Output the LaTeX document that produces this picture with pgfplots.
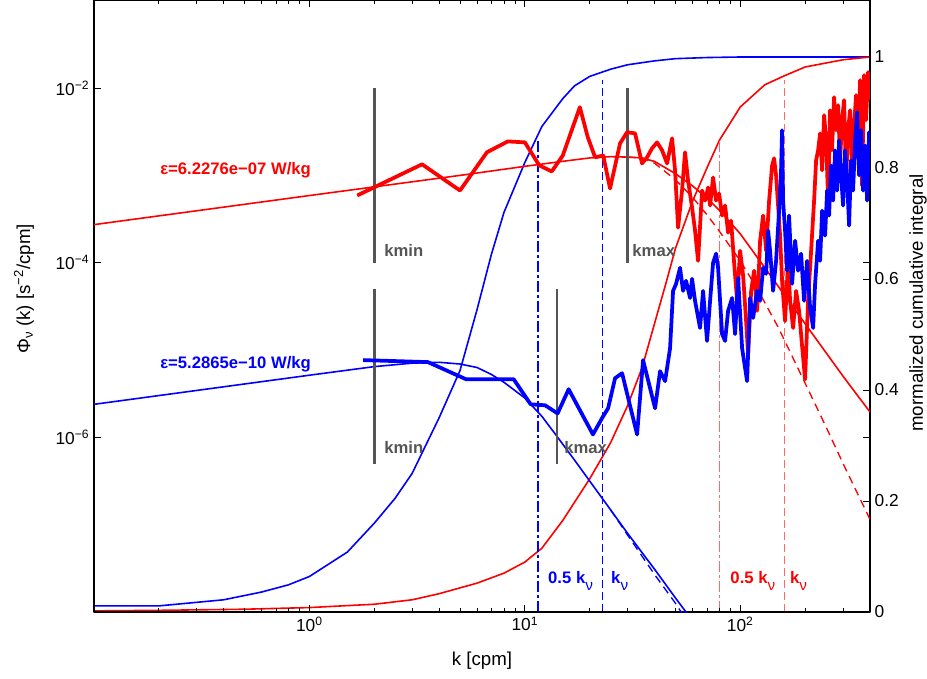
\documentclass[border=0pt]{standalone}
\usepackage{fontspec}
\setmainfont{Liberation Sans}
\usepackage{pgfplots}
\pgfplotsset{compat=1.18}
\definecolor{kgray}{RGB}{85,85,85}
\definecolor{lred}{RGB}{255,105,105}
\newcommand\fA{\fontsize{12.5}{15}\selectfont}
\newcommand\fT{\fontsize{13}{15.5}\selectfont}
\newcommand\fB{\fontsize{14}{17}\selectfont}
\newcommand\nusub{\raisebox{-0.45em}{\mdseries\fontsize{11.5}{13}\selectfont ν}}
\begin{document}
\begin{tikzpicture}[font=\fA]
% ---------------- right axis: normalized cumulative integral ----------------
\begin{axis}[
  at={(0,0)}, anchor=south west, scale only axis, width=582pt, height=459pt,
  xmode=log, xmin=0.1, xmax=400, ymin=0, ymax=1.1027,
  axis x line=none, axis y line*=right,
  ytick={0,0.2,0.4,0.6,0.8,1}, yticklabels={0,0.2,0.4,0.6,0.8,1},
  tick align=inside, major tick length=5.25pt,
  axis line style={line width=0.8pt},
  every tick/.style={black, line width=0.6pt},
  yticklabel style={font=\fT},
  clip mode=individual,
]
\addplot[blue, line width=1.2pt] coordinates {
(0.1,0.011) (0.2,0.011) (0.4,0.022) (0.6,0.036) (0.8,0.049) (1.0,0.064) (1.5,0.108)
(2.0,0.16) (2.5,0.205) (3.0,0.25) (4.0,0.35) (5.0,0.435) (6.0,0.545) (7.0,0.645)
(8.0,0.72) (10,0.81) (12,0.875) (15,0.925) (17,0.948) (20,0.965) (25,0.978)
(30,0.986) (40,0.993) (50,0.997) (70,0.999) (100,1.0) (400,1.0)};
\addplot[red, line width=1.2pt] coordinates {
(0.1,0.002) (0.2,0.003) (0.5,0.005) (1,0.008) (2,0.014) (3,0.022) (4,0.033)
(6,0.052) (8,0.07) (10,0.09) (12,0.115) (15,0.165) (20,0.24) (25,0.305)
(30,0.372) (35,0.44) (40,0.52) (45,0.59) (50,0.655) (60,0.74) (70,0.80)
(80,0.85) (100,0.91) (130,0.95) (160,0.966) (200,0.982) (300,0.995) (400,1.0)};
% k_nu markers
\addplot[blue, line width=0.9pt, dash pattern=on 8pt off 2.5pt on 2pt off 2.5pt] coordinates {(11.5,0) (11.5,0.85)};
\addplot[blue, line width=0.8pt, dash pattern=on 6pt off 3pt] coordinates {(22.9,0) (22.9,0.958)};
\addplot[lred, line width=0.9pt, dash pattern=on 8pt off 2.5pt on 2pt off 2.5pt] coordinates {(80,0) (80,0.85)};
\addplot[lred, line width=0.9pt, dash pattern=on 6pt off 3pt] coordinates {(160,0) (160,0.958)};
\node[anchor=base west, inner sep=0, text=blue, font=\fA\bfseries] at (axis cs:12.8,0.052) {0.5 k\nusub};
\node[anchor=base west, inner sep=0, text=blue, font=\fA\bfseries] at (axis cs:25.1,0.052) {k\nusub};
\node[anchor=base west, inner sep=0, text=red, font=\fA\bfseries] at (axis cs:89.8,0.052) {0.5 k\nusub};
\node[anchor=base west, inner sep=0, text=red, font=\fA\bfseries] at (axis cs:170,0.052) {k\nusub};
\node[font=\fB, xshift=36pt, rotate=90] at (rel axis cs:1,0.505) {mormalized cumulative integral};
\end{axis}
% ---------------- left axis: spectra ----------------
\begin{axis}[
  at={(0,0)}, anchor=south west, scale only axis, width=582pt, height=459pt,
  xmode=log, ymode=log, xmin=0.1, xmax=400, ymin=1e-8, ymax=1.02e-1,
  xtick={1,10,100}, xticklabels={10\textsuperscript{0},10\textsuperscript{1},10\textsuperscript{2}},
  minor xtick={0.2,0.3,0.4,0.5,0.6,0.7,0.8,0.9,2,3,4,5,6,7,8,9,20,30,40,50,60,70,80,90,200,300},
  ytick={1e-6,1e-4,1e-2}, yticklabels={10\textsuperscript{−6},10\textsuperscript{−4},10\textsuperscript{−2}},
  yminorticks=false,
  tick align=inside, tick pos=both,
  major tick length=5.25pt, minor tick length=3pt,
  axis line style={line width=0.8pt},
  every tick/.style={black, line width=0.6pt},
  tick label style={font=\fT},
  line join=round,
  clip mode=individual,
]
% model spectra
\addplot[red, line width=1.2pt] coordinates {
(0.1,2.73e-4) (1,5.88e-4) (5,1.0e-3) (10,1.27e-3) (15,1.45e-3) (20,1.585e-3) (25,1.64e-3)
(30,1.62e-3) (35,1.585e-3) (40,1.445e-3) (50,1.047e-3) (60,7.59e-4) (70,5.50e-4)
(80,3.98e-4) (90,2.88e-4) (100,2.14e-4) (120,1.15e-4) (150,5.37e-5) (200,2.0e-5)
(250,9.33e-6) (300,5.01e-6) (400,1.95e-6)};
\addplot[red, line width=1pt, dash pattern=on 6pt off 4pt] coordinates {
(30,1.62e-3) (35,1.585e-3) (40,1.38e-3) (50,8.91e-4) (60,5.62e-4) (70,3.55e-4)
(80,2.29e-4) (100,1.05e-4) (120,5.01e-5) (150,1.82e-5) (200,4.17e-6) (250,1.32e-6)
(300,5.01e-7) (400,1.15e-7)};
\addplot[blue, line width=1.2pt] coordinates {
(0.1,2.39e-6) (1,5.15e-6) (2,6.46e-6) (3,7.08e-6) (4,7.24e-6) (5,6.92e-6) (6,6.31e-6)
(7,5.25e-6) (8,4.27e-6) (10,2.82e-6) (12,1.74e-6) (14,1.05e-6) (17,5.50e-7)
(20,3.16e-7) (25,1.48e-7) (30,7.94e-8) (40,3.09e-8) (50,1.45e-8) (60,7.94e-9)};
\addplot[blue, line width=1pt, dash pattern=on 6pt off 4pt] coordinates {
(25,1.48e-7) (30,7.59e-8) (40,2.69e-8) (50,1.26e-8) (60,6.31e-9)};
% kmin / kmax bars
\addplot[kgray, line width=2.2pt] coordinates {(2,1e-4) (2,1e-2)};
\addplot[kgray, line width=2.2pt] coordinates {(30,1e-4) (30,1e-2)};
\addplot[kgray, line width=2.2pt] coordinates {(2,5e-7) (2,5e-5)};
\addplot[kgray, line width=2.2pt] coordinates {(14.1,5e-7) (14.1,5e-5)};
% measured spectra
\addplot[red, line width=2.8pt] coordinates {
(1.667,5.89e-4) (3.333,1.34e-3) (5.0,6.71e-4) (6.667,1.84e-3) (8.333,2.45e-3)
(10.0,2.39e-3) (11.67,1.30e-3) (13.33,1.11e-3) (15.0,1.69e-3) (18.0,6.04e-3)
(19.6,2.73e-3) (21.2,1.61e-3) (23.1,1.69e-3) (24.86,7.08e-4) (27.67,2.33e-3)
(29.82,3.12e-3) (32.48,3.03e-3) (35.0,1.37e-3) (36.92,1.61e-3) (38.94,2.04e-3)
(41.08,2.39e-3) (43.34,1.94e-3) (45.72,1.37e-3) (48.23,2.66e-3) (49.80,1.14e-3)
(51.43,2.52e-4) (53.66,6.71e-4) (55.41,1.84e-3) (57.22,8.75e-4) (59.72,4.29e-4)
(61.67,2.33e-4) (63.68,1.05e-4) (66.49,6.71e-4) (68.65,5.15e-4) (70.89,7.28e-4)
(72.42,4.52e-4) (74.78,9.48e-4) (77.22,5.15e-4) (79.74,6.21e-4) (82.33,3.47e-4)
(85.01,4.52e-4) (87.79,2.21e-4) (90.64,3.03e-4) (93.60,1.0e-4) (96.65,3.66e-5)
(99.80,1.37e-4) (103.1,7.08e-5) (106.4,2.15e-5) (108.7,9.0e-6) (112.3,4.76e-5)
(115.9,8.09e-5) (119.7,2.81e-5) (123.6,1.79e-4) (127.6,3.47e-4) (131.8,1.37e-4)
(136.1,5.15e-4) (140.5,1.30e-3) (143.5,1.57e-3) (146.6,1.0e-3) (149.8,4.52e-4)
(153.0,2.04e-4) (156.3,6.21e-5) (161.4,2.15e-5) (166.7,1.05e-4) (170.3,3.66e-5)
(175.9,1.79e-5) (181.6,4.76e-5) (187.5,2.81e-5) (193.6,1.11e-5) (199.9,4.63e-6)
(206.4,3.66e-5) (213.2,1.37e-4) (220.1,5.15e-4) (224.9,1.49e-3) (229.7,1.94e-3)
(234.7,3.03e-3) (239.8,1.14e-3) (245.0,4.89e-3) (250.3,2.52e-3) (255.7,5.15e-4)
(261.1,5.58e-3) (266.7,1.94e-3) (272.5,7.87e-3) (278.4,3.29e-3) (284.4,6.37e-3)
(290.6,1.49e-3) (296.9,4.29e-3) (303.3,7.28e-3) (309.9,8.75e-4) (316.5,3.29e-3)
(323.4,5.58e-3) (330.4,1.14e-3) (337.5,3.75e-3) (344.8,8.30e-3) (352.3,2.52e-3)
(359.9,1.23e-2) (367.7,7.67e-4) (375.6,1.41e-2) (383.8,4.29e-3) (392.0,1.52e-2)
(400,7.28e-3)};
\addplot[blue, line width=2.8pt] coordinates {
(1.774,7.67e-6) (3.548,7.28e-6) (5.322,4.64e-6) (7.096,4.64e-6) (8.870,4.64e-6)
(10.64,2.39e-6) (12.42,2.33e-6) (14.19,1.88e-6) (15.97,3.56e-6) (20.7,1.08e-6)
(23.07,1.74e-6) (24.34,2.15e-6) (26.23,4.76e-6) (28.27,5.43e-6) (33.19,1.08e-6)
(35.38,7.67e-6) (40.22,2.15e-6) (42.42,5.73e-6) (44.76,4.40e-6) (47.21,1.05e-5)
(48.75,4.76e-5) (50.34,5.73e-5) (52.53,8.75e-5) (54.24,4.76e-5) (56.01,6.21e-5)
(58.46,3.95e-5) (59.72,6.55e-5) (61.67,3.66e-5) (65.05,1.79e-5) (67.17,4.76e-5)
(70.10,1.27e-5) (72.42,3.66e-5) (74.78,1.0e-4) (77.22,1.27e-4) (78.89,8.75e-5)
(82.33,1.52e-5) (85.01,1.27e-5) (87.79,2.81e-5) (91.62,3.95e-5) (94.60,1.52e-5)
(97.69,6.71e-5) (101.96,1.05e-5) (105.28,6.21e-6) (107.55,4.40e-6) (111.06,3.95e-5)
(114.68,2.33e-5) (119.69,4.76e-5) (123.6,3.66e-5) (127.63,8.75e-5) (131.79,7.46e-5)
(134.64,2.33e-4) (137.5,1.37e-4) (141.98,4.76e-5) (146.62,1.05e-4) (151.39,3.95e-4)
(154.64,1.14e-3) (156.30,3.29e-3) (157.99,5.15e-4) (161.40,2.33e-4) (164.89,8.09e-5)
(168.45,3.47e-4) (173.98,5.73e-5) (179.65,1.79e-4) (185.51,8.09e-5) (191.53,1.27e-4)
(197.78,3.66e-5) (204.22,1.05e-4) (210.9,3.03e-5) (217.78,1.79e-5) (222.48,5.73e-5)
(229.73,1.79e-4) (234.7,1.05e-4) (239.77,3.95e-4) (247.59,2.04e-4) (252.94,6.71e-4)
(258.40,3.47e-4) (263.89,1.30e-3) (269.61,5.15e-4) (275.43,1.94e-3) (281.39,6.71e-4)
(287.47,2.52e-3) (293.71,1.0e-3) (300.07,4.52e-4) (306.55,1.94e-3) (313.18,8.75e-4)
(319.95,2.66e-4) (326.86,1.49e-3) (333.94,6.71e-4) (341.15,2.52e-3) (348.53,5.30e-3)
(356.06,1.0e-3) (363.75,3.29e-3) (371.63,6.71e-4) (379.66,2.21e-3) (387.86,5.15e-4)
(396.25,3.12e-3) (400,1.94e-3)};
% annotations
\node[anchor=west, inner sep=0, text=kgray, font=\fA\bfseries] at (axis cs:2.22,1.37e-4) {kmin};
\node[anchor=west, inner sep=0, text=kgray, font=\fA\bfseries] at (axis cs:2.22,7.7e-7) {kmin};
\node[anchor=west, inner sep=0, text=kgray, font=\fA\bfseries] at (axis cs:31.5,1.37e-4) {kmax};
\node[anchor=west, inner sep=0, text=kgray, font=\fA\bfseries] at (axis cs:15.2,7.7e-7) {kmax};
\node[anchor=west, inner sep=0, text=red, font=\fA\bfseries] at (axis cs:0.2025,1.14e-3) {ε=6.2276e−07 W/kg};
\node[anchor=west, inner sep=0, text=blue, font=\fA\bfseries] at (axis cs:0.2025,6.9e-6) {ε=5.2865e−10 W/kg};
\node[font=\fB, xshift=-52.5pt, rotate=90] at (rel axis cs:0,0.528) {Φ\textsubscript{ν} (k) [s\textsuperscript{−2}/cpm]};
\node[font=\fB, yshift=-36.75pt] at (rel axis cs:0.5,0) {k [cpm]};
\end{axis}
\pgfresetboundingbox
\useasboundingbox (-70.5pt,-49.5pt) rectangle (624.75pt,459pt);
\end{tikzpicture}
\end{document}
